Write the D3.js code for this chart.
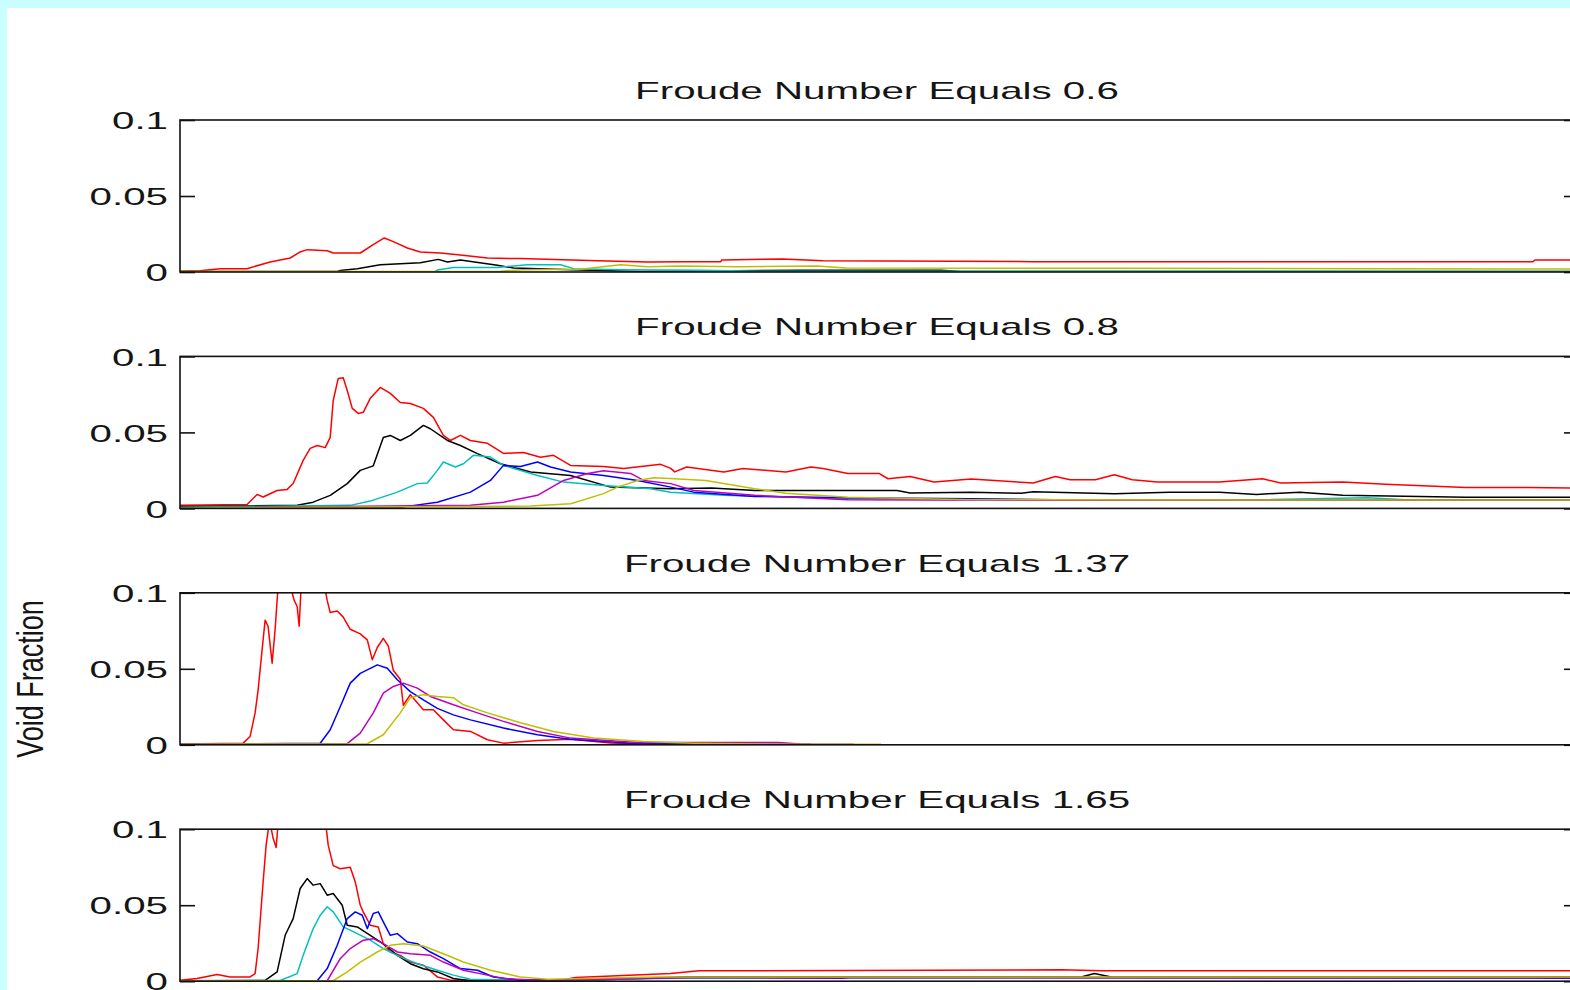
<!DOCTYPE html>
<html>
<head>
<meta charset="utf-8">
<script src="https://cdn.jsdelivr.net/npm/d3@7"></script>
<style>
  body { margin: 0; background: #c9ffff; overflow: hidden; }
  text { font-family: "Liberation Sans", Arial, Helvetica, sans-serif; fill: #151515; }
</style>
</head>
<body>
<svg id="chart"></svg>
<script>
// x = position along the channel (arbitrary units), y = void fraction
const xDomain = [0, 139.1];
const yTicks = [0, 0.05, 0.1];
const yTickLabels = ["0", "0.05", "0.1"];
const titles = ["Froude Number Equals 0.6", "Froude Number Equals 0.8",
                "Froude Number Equals 1.37", "Froude Number Equals 1.65"];

// Fr = 0.6
const fr06Red = [[0,0.0005],[2,0.0008],[4,0.0022],[6.7,0.0022],[9,0.0066],[11,0.0092],[12,0.0132],[12.7,0.0147],[14.7,0.014],[15.3,0.0125],[18,0.0125],[19.3,0.018],[20.4,0.0224],[21.3,0.02],[22.7,0.0158],[24,0.0132],[26,0.0125],[28,0.0112],[30.7,0.0092],[34,0.0088],[41.7,0.0074],[46.7,0.0066],[50,0.0068],[54,0.0068],[54.1,0.0079],[60.2,0.0086],[64.2,0.0074],[85.2,0.0068],[135.1,0.0068],[135.3,0.0079],[139.1,0.0079]];
const fr06Black = [[0,0.0003],[15.7,0.0004],[16,0.001],[17.7,0.0022],[20,0.0048],[24,0.0061],[25.8,0.0083],[26.7,0.0066],[28,0.0079],[31.7,0.0044],[33.3,0.0026],[40,0.0013],[46,0.0004],[62,0.0012],[76,0.0012],[78,0.0003],[139.1,0.0003]];
const fr06Cyan = [[25.5,0.0005],[25.7,0.0013],[27.3,0.003],[31.7,0.003],[34.7,0.0048],[38,0.0048],[39.3,0.0022],[44,0.0015],[52,0.0012],[58,0.0005],[139.1,0.0004]];
const fr06Yellow = [[0,0.0003],[32,0.0005],[34.3,0.0015],[40,0.0018],[44,0.0048],[46.7,0.0035],[50,0.0039],[55.7,0.0035],[63.6,0.0039],[66.5,0.0026],[93.7,0.0024],[139.1,0.002]];

// Fr = 0.8
const fr08Red = [[0,0.002],[6.7,0.0026],[7.7,0.0092],[8.3,0.0075],[9.7,0.0118],[10.7,0.0125],[11.3,0.0164],[12.3,0.0316],[13,0.0395],[13.7,0.0414],[14.5,0.04],[15,0.0467],[15.3,0.071],[15.8,0.0855],[16.3,0.086],[16.7,0.0776],[17.2,0.0658],[17.8,0.0625],[18.3,0.0632],[19,0.0724],[20,0.0796],[21,0.0757],[22,0.0697],[23,0.069],[24.3,0.0658],[25.3,0.0599],[26.3,0.048],[27,0.0447],[28,0.048],[29,0.0447],[30.7,0.0428],[32.3,0.0362],[34.3,0.0368],[36,0.0336],[37.3,0.0349],[39,0.0283],[42.3,0.0276],[44.3,0.0263],[48,0.029],[49,0.0263],[49.4,0.024],[50.6,0.0272],[54.3,0.024],[56.2,0.0262],[60.5,0.024],[63,0.0272],[64.2,0.0262],[66.7,0.023],[69.8,0.023],[70.7,0.0195],[72.9,0.021],[75.3,0.0173],[79,0.0193],[85.2,0.0167],[87.4,0.021],[88.9,0.0189],[91.4,0.0189],[93.3,0.0222],[95.1,0.0189],[97.6,0.0173],[103.8,0.0173],[108.1,0.0195],[109.9,0.0167],[116.1,0.0173],[120.4,0.0159],[128.4,0.0138],[134.6,0.0138],[139.1,0.0134]];
const fr08Black = [[0,0.0012],[11.7,0.002],[13.3,0.0041],[15,0.0086],[16.7,0.0163],[18,0.025],[19.3,0.028],[20.3,0.0466],[21,0.048],[22,0.0447],[23,0.048],[24.3,0.0546],[25,0.0524],[26.7,0.0447],[28,0.0414],[29.7,0.036],[32,0.0294],[35,0.0239],[39,0.0217],[43,0.014],[49,0.0129],[53.1,0.0135],[57.4,0.0118],[71.6,0.0118],[72.9,0.0101],[79,0.0107],[84,0.01],[85.2,0.011],[93.3,0.0097],[98.8,0.0107],[103.8,0.0107],[107.5,0.0092],[111.8,0.0107],[116.1,0.0086],[128.4,0.0074],[139.1,0.0074]];
const fr08Cyan = [[0,0.0008],[17,0.002],[19,0.0048],[21.7,0.0107],[23.7,0.0163],[24.7,0.0167],[25.7,0.025],[26.3,0.0305],[27.5,0.0272],[28.3,0.0294],[29.3,0.0349],[31,0.0338],[32.3,0.0283],[35.7,0.0217],[38.3,0.0173],[42.3,0.0151],[47,0.0129],[49,0.0107],[54.3,0.0086],[66.7,0.0064],[85.2,0.0057],[103.8,0.0053],[118.6,0.007],[122.3,0.0057],[139.1,0.0057]];
const fr08Blue = [[0,0.0005],[22.3,0.001],[25.7,0.0041],[29,0.0107],[31,0.0184],[32.3,0.0283],[34,0.0276],[35.7,0.0305],[37,0.0272],[39,0.024],[42.3,0.0217],[45.7,0.0184],[49,0.014],[51.3,0.0107],[57.4,0.0079],[66.7,0.007],[79,0.0064],[91.4,0.0053],[139.1,0.0053]];
const fr08Magenta = [[0,0.0003],[29,0.002],[32.3,0.0041],[35.7,0.0086],[38.3,0.0184],[40.7,0.023],[42.3,0.0248],[45,0.023],[46.3,0.0184],[49,0.0163],[51.3,0.0118],[57.4,0.0086],[66.7,0.0057],[85.2,0.0053],[139.1,0.0053]];
const fr08Yellow = [[0,0.0003],[35,0.0015],[39,0.003],[42.3,0.0097],[43.7,0.014],[45.7,0.0184],[47.3,0.0202],[49.4,0.0195],[52.5,0.0184],[57.4,0.0129],[60.5,0.01],[66.7,0.0074],[79,0.0057],[139.1,0.0055]];

// Fr = 1.37
const fr137Red = [[0,0.0005],[6.3,0.0011],[7,0.0055],[7.5,0.021],[7.8,0.036],[8.2,0.0626],[8.5,0.082],[8.8,0.0778],[9.2,0.0537],[9.5,0.076],[9.8,0.105],[10.3,0.125],[10.8,0.11],[11.2,0.1],[11.4,0.095],[11.7,0.091],[11.9,0.078],[12.1,0.105],[12.8,0.12],[13.6,0.115],[14.5,0.102],[14.7,0.095],[15,0.087],[15.7,0.088],[16.3,0.084],[17,0.076],[18,0.073],[18.7,0.069],[19.2,0.056],[19.7,0.064],[20.3,0.07],[20.8,0.065],[21.3,0.049],[22,0.043],[22.3,0.026],[23,0.033],[24.3,0.023],[25.3,0.023],[26.3,0.0164],[27.3,0.0099],[29,0.0088],[30.7,0.0033],[32.3,0.0011],[35.7,0.0028],[39,0.0037],[43,0.0012],[47,0.0003],[52,0.0003]];
const fr137Blue = [[0,0.0004],[14,0.001],[15,0.0099],[16,0.025],[17,0.0406],[18,0.047],[19.7,0.0526],[20.7,0.0504],[21.7,0.0428],[23,0.035],[24.3,0.0296],[25.7,0.024],[27.3,0.0197],[29,0.0164],[32.3,0.011],[35.7,0.0066],[38,0.0044],[39,0.0037],[44.7,0.0012],[58,0.0003],[63,0.0003]];
const fr137Magenta = [[0,0.0004],[16.7,0.0008],[18,0.0077],[19.3,0.021],[20.3,0.034],[21.3,0.0384],[22.3,0.0406],[23.7,0.0373],[25,0.0318],[27.3,0.0263],[29.7,0.021],[32.3,0.0154],[35.7,0.0088],[39,0.0044],[45.7,0.0015],[59.7,0.0015],[62,0.0005],[67.3,0.0003]];
const fr137Yellow = [[0,0.0003],[18.7,0.0007],[20.3,0.0066],[22,0.021],[23,0.031],[24.3,0.033],[25.7,0.0318],[27.3,0.031],[28.3,0.0263],[30.7,0.021],[34,0.0145],[37.3,0.0088],[41.3,0.0044],[46.3,0.0022],[51.3,0.0011],[61.3,0.0003],[70,0.0003]];

// Fr = 1.65
const fr165Red = [[0,0.0007],[1.7,0.0018],[3.7,0.0044],[5,0.0028],[7,0.0028],[7.5,0.005],[7.8,0.0215],[8.3,0.0653],[8.6,0.0895],[8.8,0.099],[9,0.104],[9.3,0.094],[9.6,0.088],[9.8,0.104],[11,0.13],[12.5,0.12],[13.5,0.125],[14.6,0.101],[14.8,0.0895],[15.3,0.076],[16,0.074],[17,0.075],[17.5,0.0653],[18,0.05],[18.3,0.0456],[19,0.0368],[19.8,0.0357],[20.3,0.0247],[21,0.0192],[22,0.017],[23,0.0126],[24.3,0.0105],[25.7,0.0028],[27,0.0007],[38,0.0007],[39.5,0.0024],[49,0.005],[51.8,0.0068],[88,0.0075],[92,0.0068],[139.1,0.0068]];
const fr165Black = [[0,0.0003],[8.5,0.0005],[9.7,0.0061],[10.5,0.0302],[11.3,0.0412],[12,0.061],[12.7,0.0675],[13.3,0.0632],[14,0.0642],[14.7,0.0566],[15.3,0.0577],[16.2,0.05],[16.7,0.0368],[17.7,0.0357],[19,0.0302],[20,0.0258],[20.7,0.0225],[21.7,0.017],[23,0.0115],[24.3,0.0082],[25.7,0.0061],[27.3,0.0018],[29,0.0003],[42.2,0.001],[50.4,0.0028],[90,0.0028],[91.3,0.005],[93,0.0028],[139.1,0.0028]];
const fr165Cyan = [[0,0.0002],[10,0.0005],[11.7,0.005],[12.3,0.017],[13.3,0.0346],[14,0.0434],[14.7,0.049],[15.3,0.0456],[16.3,0.0357],[17.7,0.0313],[19,0.027],[20.3,0.0215],[22,0.016],[23.7,0.0115],[25.7,0.0072],[27.3,0.004],[29,0.0013],[36,0.0003],[49,0.002],[139.1,0.0022]];
const fr165Blue = [[0,0.0001],[13.7,0.0003],[14.7,0.0083],[15.7,0.0236],[16.7,0.0412],[17.5,0.0456],[18.2,0.0434],[18.7,0.0346],[19.3,0.0445],[19.8,0.0456],[20.3,0.039],[21,0.0302],[21.7,0.0313],[22.7,0.0258],[23.7,0.0247],[25,0.0192],[26.3,0.0148],[28,0.0083],[29.7,0.0072],[31.3,0.0028],[34,0.0005],[52.5,0.0028],[66.1,0.002],[67,0.0028],[139.1,0.002]];
const fr165Magenta = [[0,0.0002],[14.7,0.0003],[16,0.0148],[17,0.0215],[18.3,0.027],[19.3,0.028],[20.3,0.0247],[21.7,0.0192],[23,0.0181],[25,0.017],[26.3,0.0126],[28.3,0.0072],[30.7,0.004],[32.3,0.0018],[36,0.0005],[50,0.0022],[139.1,0.0024]];
const fr165Yellow = [[0,0.0002],[15.3,0.0003],[16.7,0.0061],[18,0.0126],[19.7,0.0192],[21,0.0236],[22.3,0.0247],[24.3,0.0232],[26.3,0.0181],[28.3,0.0126],[31,0.0072],[34,0.0028],[36.7,0.0013],[47.7,0.0028],[139.1,0.0028]];

const colors = { r: "#ff0000", k: "#000000", c: "#00bfbf", b: "#0000ff", m: "#bf00bf", y: "#bfbf00" };

const panelSeries = [
  [["r", fr06Red], ["k", fr06Black], ["c", fr06Cyan], ["y", fr06Yellow]],
  [["r", fr08Red], ["k", fr08Black], ["c", fr08Cyan], ["b", fr08Blue], ["m", fr08Magenta], ["y", fr08Yellow]],
  [["r", fr137Red], ["b", fr137Blue], ["m", fr137Magenta], ["y", fr137Yellow]],
  [["r", fr165Red], ["k", fr165Black], ["c", fr165Cyan], ["b", fr165Blue], ["m", fr165Magenta], ["y", fr165Yellow]]
];

const W = 1570, H = 990;
const SX = 1.68; // the figure is stretched horizontally
const left = 180, right = 1573, plotH = 152, firstTop = 120, step = 236.4;

const svg = d3.select("#chart").attr("width", W).attr("height", H);
svg.append("rect").attr("width", W).attr("height", H).attr("fill", "#c9ffff");
svg.append("rect").attr("x", 7).attr("y", 8).attr("width", W).attr("height", H).attr("fill", "#ffffff");

const x = d3.scaleLinear().domain(xDomain).range([left, right]);

panelSeries.forEach((series, i) => {
  const top = firstTop + i * step;
  const y = d3.scaleLinear().domain([0, 0.1]).range([top + plotH, top]);
  const g = svg.append("g");

  g.append("clipPath").attr("id", "clip" + i)
    .append("rect").attr("x", left).attr("y", top).attr("width", right - left).attr("height", plotH);

  const line = d3.line().x(d => x(d[0])).y(d => y(d[1]));
  g.append("g").attr("clip-path", `url(#clip${i})`)
    .selectAll("path").data(series).join("path")
      .attr("d", d => line(d[1]))
      .attr("fill", "none")
      .attr("stroke", d => colors[d[0]])
      .attr("stroke-width", 1.5)
      .attr("stroke-linejoin", "round");

  // box
  g.append("rect").attr("x", left).attr("y", top).attr("width", right - left).attr("height", plotH)
    .attr("fill", "none").attr("stroke", "#111").attr("stroke-width", 1.6);

  const yAxis = d3.axisLeft(y).tickValues(yTicks).tickSize(-15).tickPadding(12)
    .tickFormat((d, j) => yTickLabels[j]);
  const ga = g.append("g").attr("transform", `translate(${left},0)`).call(yAxis);
  ga.select(".domain").remove();
  ga.selectAll("line").attr("stroke", "#111").attr("stroke-width", 1.6);
  ga.selectAll("text")
    .attr("x", -12 / SX).attr("dy", "0.36em")
    .attr("transform", `scale(${SX},1)`)
    .style("font-size", "24px").attr("fill", "#151515");

  const yAxisR = d3.axisRight(y).tickValues(yTicks).tickSize(-9).tickFormat("");
  const gr = g.append("g").attr("transform", `translate(${right},0)`).call(yAxisR);
  gr.select(".domain").remove();
  gr.selectAll("line").attr("stroke", "#111").attr("stroke-width", 1.6);

  g.append("text")
    .attr("transform", `translate(877,${top - 21}) scale(${SX},1)`)
    .attr("text-anchor", "middle")
    .style("font-size", "24px")
    .text(titles[i]);
});

svg.append("text")
  .attr("transform", "translate(43,679) scale(1.4,1) rotate(-90)")
  .attr("text-anchor", "middle")
  .style("font-size", "27px")
  .text("Void Fraction");
</script>
</body>
</html>
